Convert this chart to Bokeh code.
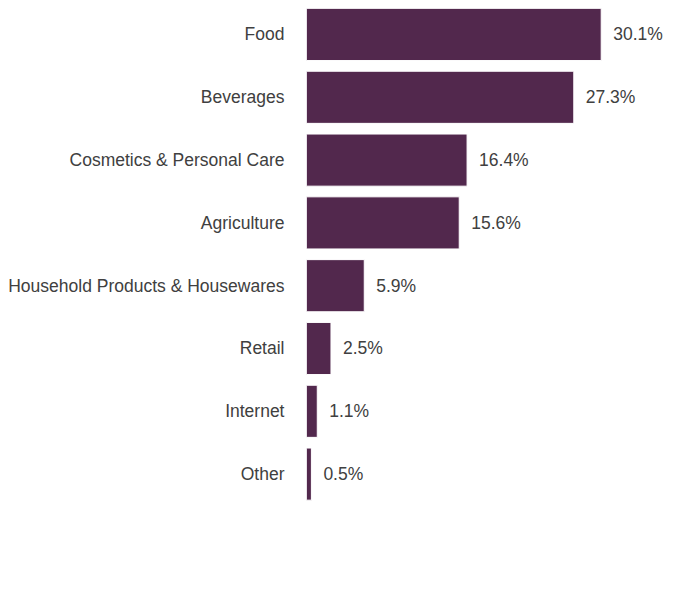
from bokeh.core.properties import value
from bokeh.models import ColumnDataSource, FixedTicker, LabelSet, Range1d
from bokeh.plotting import figure
from bokeh.embed import file_html
from bokeh.resources import INLINE

categories = [
    "Food",
    "Beverages",
    "Cosmetics & Personal Care",
    "Agriculture",
    "Household Products & Housewares",
    "Retail",
    "Internet",
    "Other",
]
shares = [30.1, 27.3, 16.4, 15.6, 5.9, 2.5, 1.1, 0.5]

BAR = "#52284d"
TEXT = "#404040"
FONT = "Liberation Sans"

positions = list(range(len(categories)))
source = ColumnDataSource(
    {
        "pos": positions,
        "share": shares,
        "label": [f"{s:.1f}%" for s in shares],
    }
)

p = figure(
    width=680,
    height=584,
    x_range=Range1d(0, 38.2),
    y_range=Range1d(8.758, -0.414),
    output_backend="svg",
    toolbar_location=None,
    min_border_left=306,
    min_border_right=0,
    min_border_top=8,
    min_border_bottom=0,
)
p.hbar(
    y="pos", right="share", left=0, height=0.83, source=source,
    fill_color=BAR, line_color="white", line_width=1,
)
p.add_layout(
    LabelSet(
        x="share", y="pos", text="label", source=source,
        x_offset=12, text_align="left", text_baseline="middle",
        text_font=value(FONT), text_font_size="17.5px", text_color=TEXT,
    )
)

p.xaxis.visible = False
p.yaxis.ticker = FixedTicker(ticks=positions)
p.yaxis.major_label_overrides = {i: c for i, c in enumerate(categories)}
p.yaxis.axis_line_color = None
p.yaxis.major_tick_line_color = None
p.yaxis.minor_tick_line_color = None
p.yaxis.major_tick_out = 0
p.yaxis.major_tick_in = 0
p.yaxis.major_label_standoff = 22
p.yaxis.major_label_text_font = FONT
p.yaxis.major_label_text_font_size = "17.5px"
p.yaxis.major_label_text_color = TEXT
p.grid.visible = False
p.outline_line_color = None

open("out.html", "w").write(file_html(p, INLINE))
